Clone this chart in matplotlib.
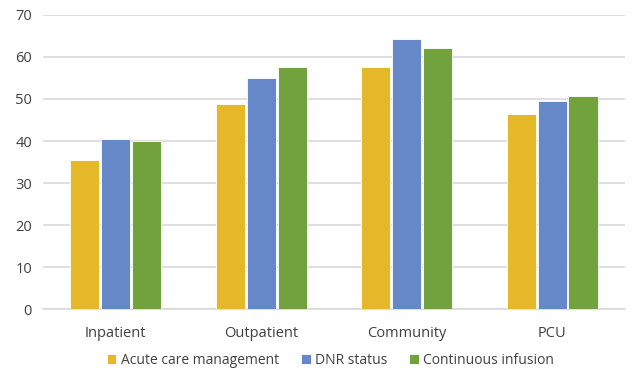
import numpy as np
import matplotlib
matplotlib.use("Agg")
import matplotlib.pyplot as plt

# Data
categories = ["Inpatient", "Outpatient", "Community", "PCU"]
acute_care = [35.4, 48.9, 57.5, 46.4]
dnr_status = [40.5, 54.9, 64.2, 49.4]
continuous_infusion = [40.0, 57.5, 62.1, 50.6]

series_names = ["Acute care management", "DNR status", "Continuous infusion"]
colors = ["#E5B82A", "#6788C8", "#72A23D"]

plt.rcParams['font.family'] = ['Open Sans', 'DejaVu Sans']

fig = plt.figure(figsize=(6.33, 3.76), dpi=100)
ax = fig.add_axes([0.068, 0.177, 0.919, 0.784])

x = np.arange(len(categories))
width = 0.2
step = 0.213
for i, (vals, name, c) in enumerate(zip([acute_care, dnr_status, continuous_infusion], series_names, colors)):
    ax.bar(x + (i - 1) * step, vals, width, color=c, label=name,
           edgecolor="white", linewidth=0.6, zorder=3)

ax.set_xlim(-0.5, len(categories) - 0.5)
ax.set_ylim(0, 70)
ax.set_yticks(range(0, 71, 10))
ax.set_xticks(x)
ax.set_xticklabels(categories)
ax.yaxis.grid(True, color="#D9D9D9", linewidth=1.2, zorder=0)
for s in ["top", "right", "left"]:
    ax.spines[s].set_visible(False)
ax.spines["bottom"].set_color("#D9D9D9")
ax.spines["bottom"].set_linewidth(1.2)
ax.tick_params(axis="both", length=0, colors="#404040", labelsize=10.5)
ax.tick_params(axis="x", pad=12)
ax.tick_params(axis="y", pad=8)

fig.legend(loc="lower center", bbox_to_anchor=(0.522, -0.012), ncol=3, frameon=False,
           fontsize=10, handlelength=0.7, handleheight=0.7, handletextpad=0.3,
           columnspacing=1.6, labelcolor="#404040")

fig.savefig("out.png", dpi=100)
